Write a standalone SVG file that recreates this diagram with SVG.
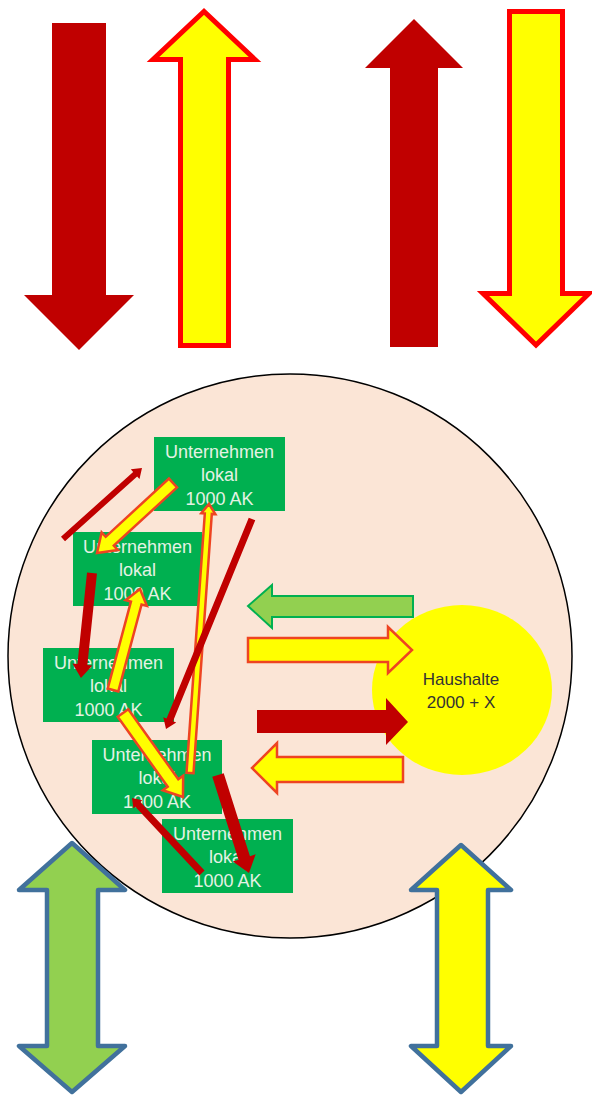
<svg xmlns="http://www.w3.org/2000/svg" width="592" height="1096" viewBox="0 0 592 1096">
<style>
.dred{fill:#C00000;stroke:none}
.yel{fill:#FFFF00;stroke:#FF0000;stroke-width:5;stroke-linejoin:miter}
.yels{fill:#FFFF00;stroke:#EE4422;stroke-width:2.5;stroke-linejoin:miter}
.grn{fill:#92D050;stroke:#00B050;stroke-width:2}
.dbl{stroke:#41719C;stroke-width:4.5;stroke-linejoin:round}
.box rect{fill:#00B050}
.box text{font-family:"Liberation Sans",Arial,sans-serif;font-size:18px;fill:#E4F2E4;text-anchor:middle}
.hh{font-family:"Liberation Sans",Arial,sans-serif;font-size:17px;fill:#333333;text-anchor:middle}
</style>
<rect width="592" height="1096" fill="#FFFFFF"/>
<g id="top-arrows">
<path class="dred" d="M52,23 L106,23 L106,295 L134,295 L79,350 L24,295 L52,295 Z"/>
<path class="yel" d="M180.5,345.5 L228.5,345.5 L228.5,59.5 L255,59.5 L204,11.5 L153,59.5 L180.5,59.5 Z"/>
<path class="dred" d="M390,347 L438,347 L438,68 L463,68 L414,19 L365,68 L390,68 Z"/>
<path class="yel" d="M509.5,11.5 L562.5,11.5 L562.5,293.5 L589,293.5 L536,345 L483,293.5 L509.5,293.5 Z"/>
</g>
<g id="region">
<circle cx="290" cy="656" r="282" fill="#FBE5D6" stroke="#000000" stroke-width="1.5"/>
</g>
<g id="haushalte">
<ellipse cx="462" cy="690" rx="90" ry="85" fill="#FFFF00"/>
<text class="hh" x="461" y="685">Haushalte</text>
<text class="hh" x="461" y="708">2000 + X</text>
</g>
<g id="u1" class="box"><rect x="154" y="437" width="131" height="74"/><text x="219.5" y="458">Unternehmen</text><text x="219.5" y="481">lokal</text><text x="219.5" y="505">1000 AK</text></g>
<g id="u2" class="box"><rect x="73" y="532" width="129" height="74"/><text x="137.5" y="553">Unternehmen</text><text x="137.5" y="576">lokal</text><text x="137.5" y="600">1000 AK</text></g>
<g id="u3" class="box"><rect x="43" y="648" width="131" height="74"/><text x="108.5" y="669">Unternehmen</text><text x="108.5" y="692">lokal</text><text x="108.5" y="716">1000 AK</text></g>
<g id="u4" class="box"><rect x="92" y="740" width="130" height="74"/><text x="157" y="761">Unternehmen</text><text x="157" y="784">lokal</text><text x="157" y="808">1000 AK</text></g>
<g id="u5" class="box"><rect x="162" y="819" width="131" height="74"/><text x="227.5" y="840">Unternehmen</text><text x="227.5" y="863">lokal</text><text x="227.5" y="887">1000 AK</text></g>
<g id="connectors">
<path class="grn" d="M413,596 L272,596 L272,585 L248,606 L272,628 L272,617 L413,617 Z"/>
<path class="yels" d="M248,638 L388,638 L388,627 L412,650 L388,673 L388,662 L248,662 Z"/>
<path class="dred" d="M257,710 L386,710 L386,698 L408,722 L386,745 L386,733 L257,733 Z"/>
<path class="yels" d="M403,757 L277,757 L277,743 L252,768 L277,793 L277,782 L403,782 Z"/>
<path class="dred" transform="translate(63,539) rotate(-41.94)" d="M0,-3 L97,-3 L97,-6.5 L106.2,0 L97,6.5 L97,3 L0,3 Z"/>
<path class="yels" transform="translate(173,483) rotate(137.35)" d="M0,-6 L86,-6 L86,-12 L103.3,0 L86,12 L86,6 L0,6 Z"/>
<path class="yels" transform="translate(190,773) rotate(-85.96)" d="M0,-3.5 L260,-3.5 L260,-7 L269.7,0 L260,7 L260,3.5 L0,3.5 Z"/>
<path class="dred" transform="translate(252,519) rotate(112.27)" d="M0,-3.5 L217,-3.5 L217,-7 L226.9,0 L217,7 L217,3.5 L0,3.5 Z"/>
<path class="dred" transform="translate(92,573) rotate(96)" d="M0,-5 L92,-5 L92,-10 L105.6,0 L92,10 L92,5 L0,5 Z"/>
<path class="yels" transform="translate(113,690) rotate(-75.03)" d="M0,-5.5 L90,-5.5 L90,-11 L104.5,0 L90,11 L90,5.5 L0,5.5 Z"/>
<path class="yels" transform="translate(123,713) rotate(54.46)" d="M0,-6.5 L86,-6.5 L86,-12.5 L103.2,0 L86,12.5 L86,6.5 L0,6.5 Z"/>
<path class="dred" transform="translate(202,873) rotate(-133.03)" d="M0,-3.5 L94,-3.5 L94,-6 L102.6,0 L94,6 L94,3.5 L0,3.5 Z"/>
<path class="dred" transform="translate(218,775) rotate(72.45)" d="M0,-6 L87,-6 L87,-12 L102.8,0 L87,12 L87,6 L0,6 Z"/>
</g>
<g id="bottom-arrows">
<path class="dbl" fill="#92D050" d="M72,843 L125,890 L98,890 L98,1046 L125,1046 L72,1092 L19,1046 L47,1046 L47,890 L19,890 Z"/>
<path class="dbl" fill="#FFFF00" d="M461,845 L511,890 L488,890 L488,1046 L511,1046 L461,1092 L411,1046 L437,1046 L437,890 L411,890 Z"/>
</g>
</svg>
